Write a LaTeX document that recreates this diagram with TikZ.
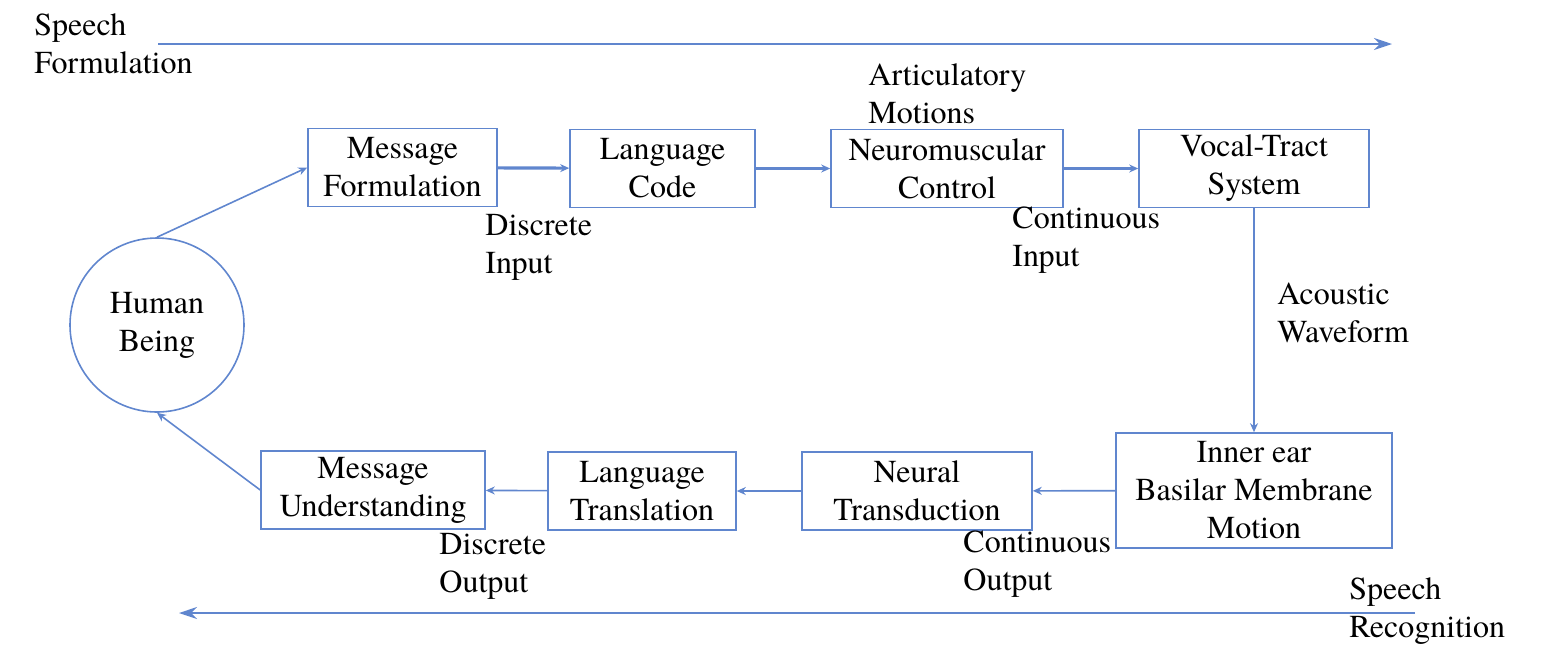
\documentclass[tikz,border=0pt]{standalone}
\usepackage{fontspec}
\setmainfont{texgyretermes-regular.otf}
\usetikzlibrary{arrows.meta}
\definecolor{lineblue}{RGB}{96,134,206}
\begin{document}
\begin{tikzpicture}[x=0.5pt,y=-0.5pt,
  font=\fontsize{16}{19}\selectfont,
  >={Stealth[length=4.5pt,width=4pt]},
  box/.style={draw=lineblue,line width=0.8pt,align=center,inner sep=0pt,minimum height=39pt},
  lbl/.style={anchor=west,align=left,inner sep=0pt},
  flow/.style={->,draw=lineblue,line width=0.8pt},
  link/.style={->,draw=lineblue,line width=1.6pt},
  longflow/.style={draw=lineblue,line width=1pt,-{Stealth[length=9pt,width=6pt]}}]
  \useasboundingbox (0,0) rectangle (1553,666);
  % speech formulation row
  \node[box,minimum width=94.5pt] (MF) at (402.5,167.5) {Message\\Formulation};
  \node[box,minimum width=92.5pt] (LC) at (662.5,168.5) {Language\\Code};
  \node[box,minimum width=116pt] (NC) at (947,168.5) {Neuromuscular\\Control};
  \node[box,minimum width=115pt] (VT) at (1254,168.5) {Vocal-Tract\\System};
  % speech recognition row
  \node[box,minimum width=138pt,minimum height=57.5pt] (IE) at (1254,490.5) {Inner ear\\Basilar Membrane\\Motion};
  \node[box,minimum width=115pt] (NT) at (917,491) {Neural\\Transduction};
  \node[box,minimum width=94pt] (LT) at (642,491) {Language\\Translation};
  \node[box,minimum width=112pt] (MU) at (373,490) {Message\\Understanding};
  \node[draw=lineblue,line width=0.8pt,circle,minimum size=87pt,inner sep=0pt,align=center] (HB) at (157,325) {Human\\Being};
  % labels
  \node[lbl] (sf) at (34,44) {Speech\\Formulation};
  \node[lbl] (am) at (868,94) {Articulatory\\Motions};
  \node[lbl] (di) at (485,247) {Discrete\\Input};
  \node[lbl] (ci) at (1012,240) {Continuous\\Input};
  \node[lbl] (aw) at (1277,313) {Acoustic\\Waveform};
  \node[lbl] (do) at (439,566) {Discrete\\Output};
  \node[lbl] (co) at (963,564) {Continuous\\Output};
  \node[lbl] (sr) at (1349,611) {Speech\\Recognition};
  % direction arrows
  \coordinate (sfa) at (158,44);
  \coordinate (sfb) at (1392,44);
  \coordinate (sra) at (1415,613);
  \coordinate (srb) at (179,613);
  \draw[longflow] (sfa) -- (sfb);
  \draw[longflow] (sra) -- (srb);
  % connectors
  \draw[flow] (HB.north) -- (MF.west);
  \draw[link] (MF) -- (LC);
  \draw[link] (LC) -- (NC);
  \draw[link] (NC) -- (VT);
  \draw[flow] (VT) -- (IE);
  \draw[flow] (IE) -- (NT);
  \draw[flow] (NT) -- (LT);
  \draw[flow] (LT) -- (MU);
  \draw[flow] (MU.west) -- (HB.south);
\end{tikzpicture}
\end{document}
